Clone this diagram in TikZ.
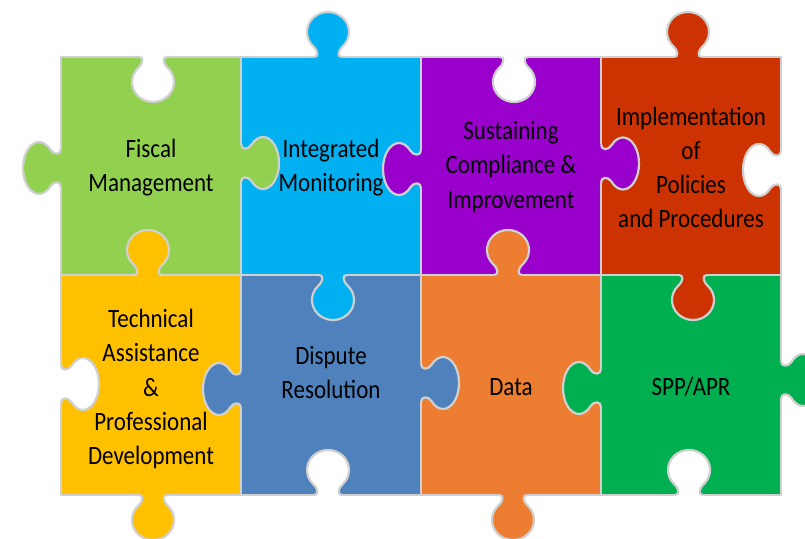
\documentclass[tikz,border=0pt]{standalone}
\usepackage{fontspec}
\setmainfont{Carlito}
\definecolor{cfiscal}{HTML}{92D050}
\definecolor{cinteg}{HTML}{00B0F0}
\definecolor{csust}{HTML}{9900CC}
\definecolor{cimpl}{HTML}{CC3300}
\definecolor{ctech}{HTML}{FFC000}
\definecolor{cdisp}{HTML}{4F81BD}
\definecolor{cdata}{HTML}{ED7D31}
\definecolor{cspp}{HTML}{00B050}
\definecolor{cedge}{HTML}{D0D0D0}
\tikzset{
  edge/.style={draw=cedge, line width=2.2pt, line join=round},
  piece/.style={edge},
  lbl/.style={font=\fontsize{23}{29.7}\selectfont, align=center, text=black, yscale=1.15, transform shape, inner sep=0pt},
  pics/vknob/.style={code={
    \fill[#1] (0,-14) .. controls (0,-9) and (6,-9.65) .. (10.86,-14.85)
      arc[start angle=-135, end angle=135, x radius=20pt, y radius=21pt]
      .. controls (6,9.65) and (0,9) .. (0,14) -- (-2.6,14) -- (-2.6,-14) -- cycle;
    \draw[edge] (0,-14) .. controls (0,-9) and (6,-9.65) .. (10.86,-14.85)
      arc[start angle=-135, end angle=135, x radius=20pt, y radius=21pt]
      .. controls (6,9.65) and (0,9) .. (0,14);
  }},
  pics/hknob/.style={code={
    \fill[#1] (0,-19) .. controls (0,-13) and (7.3,-12.87) .. (10.69,-18.38)
      arc[start angle=-135, end angle=135, x radius=16pt, y radius=26pt]
      .. controls (7.3,12.87) and (0,13) .. (0,19) -- (-2.6,19) -- (-2.6,-19) -- cycle;
    \draw[edge] (0,-19) .. controls (0,-13) and (7.3,-12.87) .. (10.69,-18.38)
      arc[start angle=-135, end angle=135, x radius=16pt, y radius=26pt]
      .. controls (7.3,12.87) and (0,13) .. (0,19);
  }}
}
\begin{document}
\begin{tikzpicture}[x=1pt, y=1pt]
\useasboundingbox (0,0) rectangle (805,538);
\clip (0,0) rectangle (805,538);
\fill[white] (0,0) rectangle (805,538);
% pieces
\filldraw[piece, fill=cfiscal] (61,481) rectangle (241,263);
\filldraw[piece, fill=cinteg] (241,481) rectangle (421,263);
\filldraw[piece, fill=csust] (421,481) rectangle (601,263);
\filldraw[piece, fill=cimpl] (601,481) rectangle (781,263);
\filldraw[piece, fill=ctech] (61,263) rectangle (241,43);
\filldraw[piece, fill=cdisp] (241,263) rectangle (421,43);
\filldraw[piece, fill=cdata] (421,263) rectangle (601,43);
\filldraw[piece, fill=cspp] (601,263) rectangle (781,43);
% top edge
\pic[rotate=270] at (153,481) {vknob=white};
\pic[rotate=90] at (328,481) {vknob=cinteg};
\pic[rotate=270] at (514,481) {vknob=white};
\pic[rotate=90] at (688,481) {vknob=cimpl};
% middle edge
\pic[rotate=90] at (148,263) {vknob=ctech};
\pic[rotate=270] at (333,263) {vknob=cinteg};
\pic[rotate=90] at (508,263) {vknob=cdata};
\pic[rotate=270] at (693,263) {vknob=cimpl};
% bottom edge
\pic[rotate=270] at (153,43) {vknob=ctech};
\pic[rotate=90] at (328,43) {vknob=white};
\pic[rotate=270] at (513,43) {vknob=cdata};
\pic[rotate=90] at (689,43) {vknob=white};
% left and right edges
\pic[rotate=180] at (61,370) {hknob=cfiscal};
\pic[rotate=0] at (61,154) {hknob=white};
\pic[rotate=180] at (781,368) {hknob=white};
\pic[rotate=0] at (781,158) {hknob=cspp};
% inner vertical edges
\pic[rotate=0] at (241,375) {hknob=cfiscal};
\pic[rotate=180] at (421,369) {hknob=csust};
\pic[rotate=0] at (601,374.5) {hknob=csust};
\pic[rotate=180] at (241,149) {hknob=cdisp};
\pic[rotate=0] at (421,155) {hknob=cdisp};
\pic[rotate=180] at (601,150) {hknob=cspp};
% labels
\node[lbl] (fiscal) at (151,370) {Fiscal\\Management};
\node[lbl] (integ) at (331,370) {Integrated\\Monitoring};
\node[lbl] (sust) at (511,371) {Sustaining\\Compliance \&\\Improvement};
\node[lbl] (impl) at (691,370.5) {Implementation\\of\\Policies\\and Procedures};
\node[lbl] (tech) at (151,149) {Technical\\Assistance\\\&\\Professional\\Development};
\node[lbl] (disp) at (331,165.5) {Dispute\\Resolution};
\node[lbl] (data) at (511,150.5) {Data};
\node[lbl] (spp) at (691,151.5) {SPP/APR};
\end{tikzpicture}
\end{document}
